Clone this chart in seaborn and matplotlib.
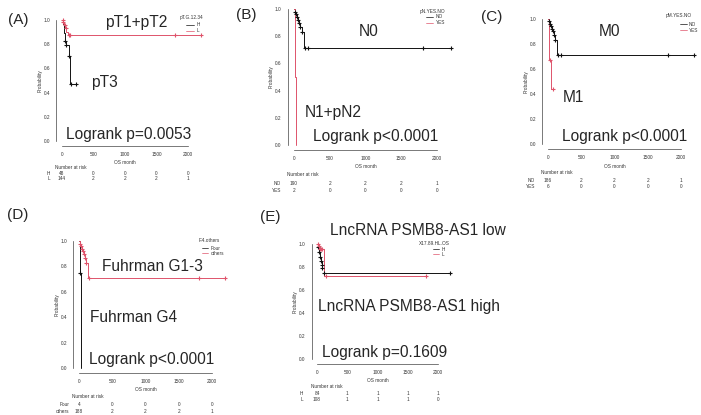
import numpy as np
import pandas as pd
import matplotlib
matplotlib.use("Agg")
import matplotlib.pyplot as plt
import seaborn as sns
from matplotlib.lines import Line2D
import matplotlib.transforms as mtransforms

sns.set_style("white")
plt.rcParams['font.family'] = ['Liberation Sans', 'DejaVu Sans']

W, H = 701, 415
BLACK = '#111111'
PINK = '#DF536B'

# ---------------- data ----------------
time_ticks = [0, 500, 1000, 1500, 2000]
prob_ticks = [0.0, 0.2, 0.4, 0.6, 0.8, 1.0]

# (A) pT.G.12.34
A_H_time = [0, 10, 25, 42, 69, 106, 132, 217]
A_H_surv = [1.0, 0.97, 0.89, 0.83, 0.79, 0.70, 0.47, 0.47]
A_H_cens_t = [42, 69, 106, 150, 217]
A_H_cens_s = [0.83, 0.79, 0.70, 0.47, 0.47]
A_L_time = [0, 15, 30, 50, 70, 100, 2200]
A_L_surv = [1.0, 0.98, 0.96, 0.93, 0.90, 0.875, 0.875]
A_L_cens_t = [8, 20, 40, 60, 110, 130, 1800, 2200]
A_L_cens_s = [1.0, 0.98, 0.96, 0.93, 0.875, 0.875, 0.875, 0.875]
A_risk_H = [48, 0, 0, 0, 0]
A_risk_L = [144, 2, 2, 2, 1]

# (B) pN.YES.NO
B_NO_time = [0, 15, 30, 45, 60, 75, 90, 110, 140, 2200]
B_NO_surv = [1.0, 0.98, 0.96, 0.94, 0.92, 0.90, 0.87, 0.83, 0.71, 0.71]
B_NO_cens_t = [15, 30, 45, 60, 75, 90, 110, 150, 190, 1800, 2200]
B_NO_cens_s = [0.98, 0.96, 0.94, 0.92, 0.90, 0.87, 0.83, 0.71, 0.71, 0.71, 0.71]
B_YES_time = [0, 10, 22]
B_YES_surv = [1.0, 0.5, 0.0]
B_risk_NO = [190, 2, 2, 2, 1]
B_risk_YES = [2, 0, 0, 0, 0]

# (C) pM.YES.NO
C_NO_time = [0, 15, 30, 45, 60, 75, 90, 110, 140, 2200]
C_NO_surv = [1.0, 0.98, 0.96, 0.94, 0.92, 0.90, 0.87, 0.83, 0.71, 0.71]
C_NO_cens_t = [15, 30, 45, 60, 75, 90, 110, 150, 200, 1800, 2200]
C_NO_cens_s = [0.98, 0.96, 0.94, 0.92, 0.90, 0.87, 0.83, 0.71, 0.71, 0.71, 0.71]
C_YES_time = [0, 10, 20, 40, 80]
C_YES_surv = [1.0, 0.83, 0.67, 0.44, 0.44]
C_YES_cens_t = [25, 80]
C_YES_cens_s = [0.67, 0.44]
C_risk_NO = [186, 2, 2, 2, 1]
C_risk_YES = [6, 0, 0, 0, 0]

# (D) F.4.others
D_Four_time = [0, 20, 30]
D_Four_surv = [1.0, 0.75, 0.0]
D_Four_cens_t = [22]
D_Four_cens_s = [0.75]
D_oth_time = [0, 15, 30, 45, 60, 75, 90, 110, 140, 2200]
D_oth_surv = [1.0, 0.98, 0.96, 0.94, 0.92, 0.90, 0.87, 0.83, 0.71, 0.71]
D_oth_cens_t = [15, 30, 45, 60, 75, 90, 110, 150, 1800, 2200]
D_oth_cens_s = [0.98, 0.96, 0.94, 0.92, 0.90, 0.87, 0.83, 0.71, 0.71, 0.71]
D_risk_Four = [4, 0, 0, 0, 0]
D_risk_oth = [188, 2, 2, 2, 1]

# (E) X17.89.HL.OS
E_H_time = [0, 15, 30, 45, 60, 75, 90, 110, 2200]
E_H_surv = [1.0, 0.97, 0.93, 0.89, 0.85, 0.82, 0.79, 0.75, 0.75]
E_H_cens_t = [15, 30, 45, 60, 75, 90, 110, 2200]
E_H_cens_s = [0.97, 0.93, 0.89, 0.85, 0.82, 0.79, 0.75, 0.75]
E_L_time = [0, 20, 40, 115, 1800]
E_L_surv = [1.0, 0.98, 0.96, 0.72, 0.72]
E_L_cens_t = [10, 30, 50, 70, 90, 155, 1800]
E_L_cens_s = [1.0, 0.98, 0.96, 0.96, 0.96, 0.72, 0.72]
E_risk_H = [84, 1, 1, 1, 1]
E_risk_L = [108, 1, 1, 1, 0]

# ---------------- layout helpers ----------------
fig = plt.figure(figsize=(W / 100, H / 100), dpi=100)
fig.patch.set_facecolor('white')


def fx(px):
    return px / W


def fy(py):
    return 1 - py / H


SMALL = 3.4
BIG = 11.2


def draw_panel(label, label_xy, frame, curves, legend, risk, rows, ann):
    x0, x2000, y0, y1 = frame
    sx = (x2000 - x0) / 2000.0
    sy = (y0 - y1)
    xmin, xmax, ymin, ymax = -90, 2290, -0.04, 1.04
    left = x0 + sx * xmin
    right = x0 + sx * xmax
    top = y0 - sy * ymax
    bottom = y0 - sy * ymin
    ax = fig.add_axes([fx(left), fy(bottom), (right - left) / W, (bottom - top) / H])
    ax.patch.set_alpha(0)
    for t, s, ct, cs, color in curves:
        df = pd.DataFrame({'t': t, 's': s})
        sns.lineplot(data=df, x='t', y='s', drawstyle='steps-post', color=color,
                     lw=0.7, ax=ax, estimator=None, sort=False)
        if ct:
            sns.scatterplot(x=ct, y=cs, marker='+', color=color, s=9,
                            linewidth=0.8, ax=ax, zorder=3)
    ax.set_xlim(xmin, xmax)
    ax.set_ylim(ymin, ymax)
    for sp in ['top', 'right']:
        ax.spines[sp].set_visible(False)
    for sp in ['left', 'bottom']:
        ax.spines[sp].set_linewidth(0.5)
        ax.spines[sp].set_color('#444444')
    ax.spines['left'].set_bounds(0, 1)
    ax.spines['bottom'].set_bounds(0, 2000)
    ax.set_xticks(time_ticks)
    ax.set_xticklabels([str(v) for v in time_ticks])
    ax.set_yticks(prob_ticks)
    ax.set_yticklabels(['%.1f' % v for v in prob_ticks])
    ax.tick_params(axis='both', labelsize=SMALL, length=1.8, width=0.5,
                   pad=2.5, colors='#444444', labelcolor='#333333')
    ax.set_xlabel('OS month', fontsize=SMALL, color='#333333')
    ax.set_ylabel('Probability', fontsize=SMALL, color='#333333')
    ax.xaxis.set_label_coords(fx(x0 + 1000 * sx), fy(risk['os']), transform=fig.transFigure)
    ax.yaxis.set_label_coords(fx(left - 16), fy((y0 + y1) / 2), transform=fig.transFigure)
    ax.xaxis.label.set_va('center')
    ax.yaxis.label.set_va('center')

    # panel label
    fig.text(fx(label_xy[0]), fy(label_xy[1]), label, fontsize=11, ha='center', va='center')

    # annotations
    for txt, xp, yp, ha in ann:
        fig.text(fx(xp), fy(yp), txt, fontsize=BIG, ha=ha, va='center')

    # legend
    tx, ty, lx0, lx1, labx, ys, names, cols, title = legend
    fig.text(fx(tx), fy(ty), title, fontsize=SMALL, ha='center', va='center', color='#333333')
    for yy, nm, cc in zip(ys, names, cols):
        fig.add_artist(Line2D([fx(lx0), fx(lx1)], [fy(yy), fy(yy)], color=cc, lw=0.5,
                              transform=fig.transFigure))
        fig.text(fx(labx), fy(yy), nm, fontsize=SMALL, ha='left', va='center', color='#333333')

    # number at risk
    trans = mtransforms.blended_transform_factory(ax.transData, fig.transFigure)
    fig.text(fx(left - 1), fy(risk['title']), 'Number at risk', fontsize=SMALL,
             ha='left', va='center', color='#333333')
    for (name, vals), yy in zip(rows, risk['rows']):
        fig.text(fx(risk['name_x']), fy(yy), name, fontsize=SMALL, ha='right',
                 va='center', color='#333333')
        for tt, v in zip(time_ticks, vals):
            ax.text(tt, fy(yy), str(v), transform=trans, fontsize=SMALL, ha='center',
                    va='center', color='#333333', clip_on=False)
    return ax


# (A)
draw_panel('(A)', (18, 20), (62, 188, 141, 20),
           [(A_H_time, A_H_surv, A_H_cens_t, A_H_cens_s, BLACK),
            (A_L_time, A_L_surv, A_L_cens_t, A_L_cens_s, PINK)],
           (191, 18, 186, 194, 197, [25, 31], ['H', 'L'], [BLACK, PINK], 'pT.G.12.34'),
           {'os': 162, 'title': 167, 'rows': [173, 178], 'name_x': 50},
           [('H', A_risk_H), ('L', A_risk_L)],
           [('pT1+pT2', 136, 22, 'center'), ('pT3', 104, 83, 'center'),
            ('Logrank p=0.0053', 129, 134, 'center')])

# (B)
draw_panel('(B)', (246, 15), (294, 437, 145, 9),
           [(B_NO_time, B_NO_surv, B_NO_cens_t, B_NO_cens_s, BLACK),
            (B_YES_time, B_YES_surv, [], [], PINK)],
           (432, 11, 426, 433, 436, [17, 23], ['NO', 'YES'], [BLACK, PINK], 'pN.YES.NO'),
           {'os': 166, 'title': 174, 'rows': [183, 190], 'name_x': 281},
           [('NO', B_risk_NO), ('YES', B_risk_YES)],
           [('N0', 369, 32, 'center'), ('N1+pN2', 333, 112, 'center'),
            ('Logrank p<0.0001', 376, 137, 'center')])

# (C)
draw_panel('(C)', (492, 17), (548, 681, 144, 19),
           [(C_NO_time, C_NO_surv, C_NO_cens_t, C_NO_cens_s, BLACK),
            (C_YES_time, C_YES_surv, C_YES_cens_t, C_YES_cens_s, PINK)],
           (679, 16, 680, 687, 689, [24, 30], ['NO', 'YES'], [BLACK, PINK], 'pM.YES.NO'),
           {'os': 166, 'title': 172, 'rows': [180, 187], 'name_x': 535},
           [('NO', C_risk_NO), ('YES', C_risk_YES)],
           [('M0', 609, 32, 'center'), ('M1', 573, 98, 'center'),
            ('Logrank p<0.0001', 625, 137, 'center')])

# (D)
draw_panel('(D)', (18, 215), (79, 212, 368, 241),
           [(D_Four_time, D_Four_surv, D_Four_cens_t, D_Four_cens_s, BLACK),
            (D_oth_time, D_oth_surv, D_oth_cens_t, D_oth_cens_s, PINK)],
           (209, 240, 202, 208, 211, [248, 253], ['Four', 'others'], [BLACK, PINK], 'F.4.others'),
           {'os': 389, 'title': 396, 'rows': [404, 411], 'name_x': 69},
           [('Four', D_risk_Four), ('others', D_risk_oth)],
           [('Fuhrman G1-3', 152, 266, 'center'), ('Fuhrman G4', 134, 317, 'center'),
            ('Logrank p<0.0001', 152, 359, 'center')])

# (E)
draw_panel('(E)', (270, 217), (317, 438, 359, 244),
           [(E_H_time, E_H_surv, E_H_cens_t, E_H_cens_s, BLACK),
            (E_L_time, E_L_surv, E_L_cens_t, E_L_cens_s, PINK)],
           (434, 243, 433, 439, 442, [249, 254], ['H', 'L'], [BLACK, PINK], 'X17.89.HL.OS'),
           {'os': 380, 'title': 386, 'rows': [393, 399], 'name_x': 303},
           [('H', E_risk_H), ('L', E_risk_L)],
           [('LncRNA PSMB8-AS1 low', 330, 230, 'left'),
            ('LncRNA PSMB8-AS1 high', 318, 306, 'left'),
            ('Logrank p=0.1609', 385, 352, 'center')])

fig.savefig('out.png', dpi=100, facecolor='white')
